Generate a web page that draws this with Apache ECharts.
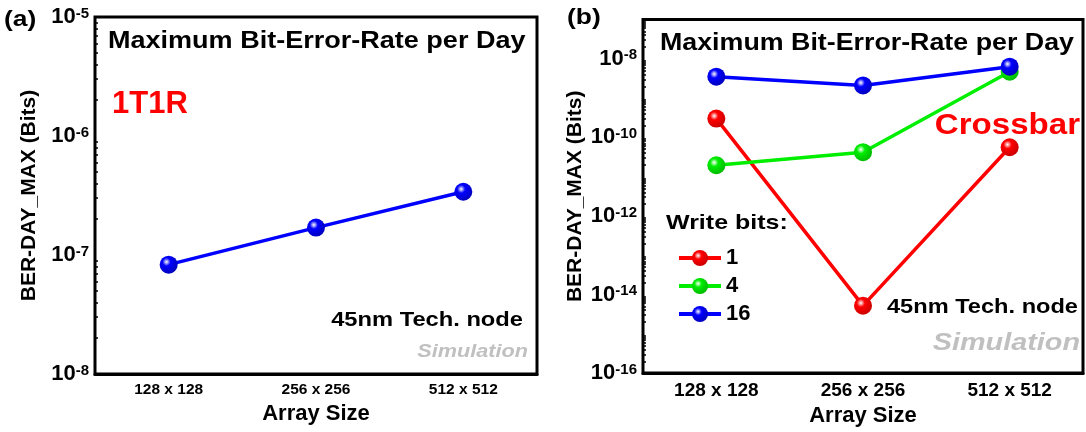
<!DOCTYPE html>
<html>
<head>
<meta charset="utf-8">
<script src="https://cdn.jsdelivr.net/npm/echarts@6/dist/echarts.min.js"></script>
<style>
  html, body { margin: 0; padding: 0; background: #fff; }
  #chart { width: 1086px; height: 432px; }
</style>
</head>
<body>
<div id="chart"></div>
<script>
// Array sizes along the x axis
const arraySizes = ['128 x 128', '256 x 256', '512 x 512'];

// (a) 1T1R: maximum bit-error-rate per day
const ber1T1R = [8.3e-8, 1.7e-7, 3.4e-7];

// (b) Crossbar: maximum bit-error-rate per day, by number of write bits
const writeBitNames = ['1', '4', '16'];
const berWrite1 = [3.0e-10, 5.2e-15, 5.6e-11];
const berWrite4 = [1.95e-11, 4.2e-11, 4.7e-9];
const berWrite16 = [3.5e-9, 2.1e-9, 6.3e-9];

const FONT = '"Liberation Sans", Arial, sans-serif';

// Shaded sphere fill for the markers
function ball(color, dark) {
  return {
    type: 'radial', x: 0.38, y: 0.35, r: 0.75,
    colorStops: [
      { offset: 0, color: '#ffffff' },
      { offset: 0.3, color: color },
      { offset: 1, color: dark }
    ]
  };
}

function powLabel(v) {
  const e = Math.round(Math.log10(v));
  return '{b|10}{s|' + e + '}';
}

const labelRich = {
  b: { fontFamily: FONT, fontWeight: 'bold', fontSize: 22, color: '#000', verticalAlign: 'bottom', lineHeight: 22 },
  s: { fontFamily: FONT, fontWeight: 'bold', fontSize: 15, color: '#000', verticalAlign: 'top', padding: [0, 0, 12, 0], lineHeight: 15 }
};

function xAxes(gridIndex, labelSize, labelMargin, nameGap) {
  return [
    {
      type: 'category', gridIndex, data: arraySizes, boundaryGap: true,
      name: 'Array Size', nameLocation: 'middle', nameGap,
      nameTextStyle: { fontFamily: FONT, fontWeight: 'bold', fontSize: 22, color: '#000' },
      axisLine: { lineStyle: { color: '#000', width: 3 } },
      axisTick: { alignWithLabel: true, inside: true, length: 7, lineStyle: { color: '#000', width: 3 } },
      axisLabel: { fontFamily: FONT, fontWeight: 'bold', fontSize: labelSize, color: '#000', margin: labelMargin },
      splitLine: { show: false }
    },
    {
      // band-boundary ticks between the array sizes
      type: 'category', gridIndex, data: arraySizes, boundaryGap: true, position: 'bottom',
      axisLine: { show: false },
      axisTick: { inside: true, length: 3, lineStyle: { color: '#000', width: 2 } },
      axisLabel: { show: false },
      splitLine: { show: false }
    }
  ];
}

function yAxis(gridIndex, min, max, nameGap, labelFilter) {
  return {
    type: 'log', gridIndex, min, max, logBase: 10,
    name: 'BER-DAY_MAX (Bits)', nameLocation: 'middle', nameGap, nameRotate: 90,
    nameTextStyle: { fontFamily: FONT, fontWeight: 'bold', fontSize: 21, color: '#000' },
    axisLine: { lineStyle: { color: '#000', width: 3 } },
    axisTick: { inside: true, length: 6, lineStyle: { color: '#000', width: 3 } },
    minorTick: { show: true, splitNumber: 9, length: 3, lineStyle: { color: '#000', width: 1.5 } },
    axisLabel: {
      margin: 6,
      formatter: v => labelFilter(v) ? powLabel(v) : '',
      rich: labelRich
    },
    splitLine: { show: false }
  };
}

function lineSeries(name, data, color, dark, xi, yi) {
  return {
    name, type: 'line', data, xAxisIndex: xi, yAxisIndex: yi,
    symbol: 'circle', symbolSize: 18,
    lineStyle: { color, width: 3.5 },
    itemStyle: { color: ball(color, dark) },
    emphasis: { disabled: true },
    z: 3
  };
}

function txt(x, y, text, size, color, sx, extra) {
  return {
    type: 'text', x, y, scaleX: sx,
    style: Object.assign({
      text, fontFamily: FONT, fontWeight: 'bold', fontSize: size, fill: color,
      textVerticalAlign: 'middle'
    }, extra || {}),
    z: 10
  };
}

const chart = echarts.init(document.getElementById('chart'), null, { renderer: 'canvas' });

chart.setOption({
  animation: false,
  backgroundColor: '#fff',
  grid: [
    { left: 95, top: 17, width: 442, height: 357, show: true, borderColor: '#000', borderWidth: 3, backgroundColor: 'transparent' },
    { left: 643, top: 19.5, width: 440, height: 355.5, show: true, borderColor: '#000', borderWidth: 3, backgroundColor: 'transparent' }
  ],
  xAxis: [].concat(xAxes(0, 15.5, 8, 28), xAxes(1, 19, 8, 31)),
  yAxis: [
    yAxis(0, 1e-8, 1e-5, 55, () => true),
    yAxis(1, 1e-16, 1e-7, 57, v => Math.round(Math.log10(v)) % 2 === 0)
  ],
  legend: {
    show: true,
    data: writeBitNames,
    orient: 'vertical', left: 672, top: 242,
    itemWidth: 42, itemHeight: 20, itemGap: 6,
    lineStyle: { width: 4 },
    textStyle: { fontFamily: FONT, fontWeight: 'bold', fontSize: 22, lineHeight: 20, color: '#000' },
    selectedMode: false
  },
  series: [
    lineSeries('1T1R', ber1T1R, '#0000ff', '#0000b0', 0, 0),
    lineSeries(writeBitNames[0], berWrite1, '#ff0000', '#c00000', 2, 1),
    lineSeries(writeBitNames[1], berWrite4, '#00ee00', '#00b000', 2, 1),
    lineSeries(writeBitNames[2], berWrite16, '#0000ff', '#0000b0', 2, 1)
  ],
  graphic: [
    txt(4, 20, '(a)', 22, '#000', 1.2),
    txt(567, 18, '(b)', 22, '#000', 1.2),
    txt(108, 42, 'Maximum Bit-Error-Rate per Day', 23, '#000', 1.175),
    txt(660, 44, 'Maximum Bit-Error-Rate per Day', 23, '#000', 1.165),
    txt(112, 104, '1T1R', 31, '#ff0000', 1),
    txt(1080, 126, 'Crossbar', 29, '#ff0000', 1.14, { textAlign: 'right' }),
    txt(523, 320, '45nm Tech. node', 20, '#000', 1.185, { textAlign: 'right' }),
    txt(1078, 307, '45nm Tech. node', 20, '#000', 1.18, { textAlign: 'right' }),
    txt(528, 352, 'Simulation', 19, '#c0c0c0', 1.14, { textAlign: 'right', fontStyle: 'italic' }),
    txt(1080, 343, 'Simulation', 24, '#c0c0c0', 1.2, { textAlign: 'right', fontStyle: 'italic' }),
    txt(666, 223, 'Write bits:', 21, '#000', 1.19)
  ]
});
</script>
</body>
</html>
